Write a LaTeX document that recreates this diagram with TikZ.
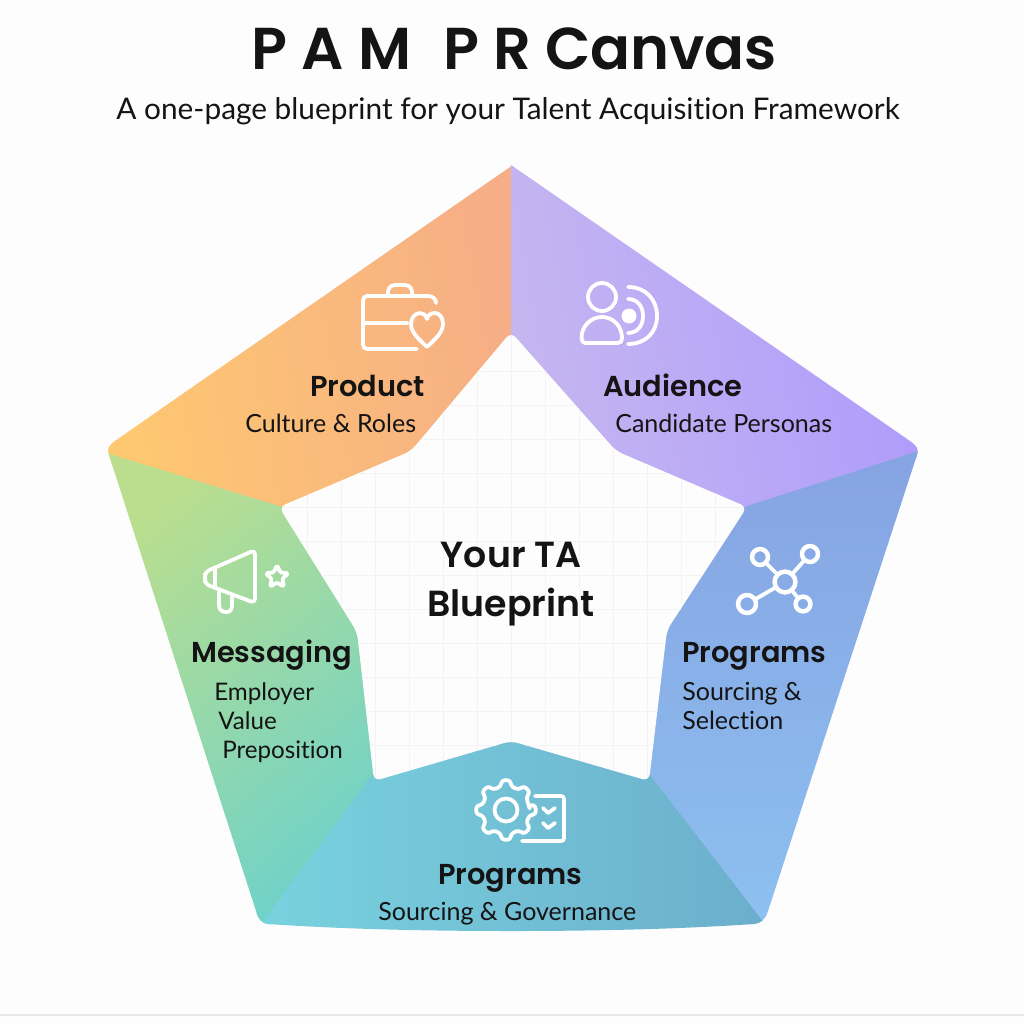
\documentclass[tikz,border=0pt]{standalone}
\usepackage{fontspec}
\setmainfont[Ligatures=NoCommon]{Lato}
\newfontfamily\headfont{Poppins SemiBold}
\usetikzlibrary{positioning}
\definecolor{inkblack}{HTML}{141414}
\definecolor{pagewhite}{HTML}{FDFDFD}
\definecolor{gridgray}{HTML}{F3F3F3}
\definecolor{rulegray}{HTML}{E6E8EA}
\definecolor{productA}{RGB}{254,200,112}
\definecolor{productB}{RGB}{246,174,134}
\definecolor{audienceA}{RGB}{197,182,240}
\definecolor{audienceB}{RGB}{174,155,252}
\definecolor{programsA}{RGB}{134,163,226}
\definecolor{programsB}{RGB}{141,192,240}
\definecolor{governA}{RGB}{120,210,222}
\definecolor{governB}{RGB}{108,174,204}
\definecolor{messageA}{RGB}{186,222,142}
\definecolor{messageB}{RGB}{112,210,200}
\begin{document}
\begin{tikzpicture}[x=.025cm,y=-.025cm,line join=round,
    headtext/.style={inner sep=0pt,text=inkblack,font=\headfont\fontsize{20.5}{20.5}\selectfont},
    centertext/.style={anchor=base,inner sep=0pt,text=inkblack,font=\headfont\fontsize{25.8}{25.8}\selectfont},
    subtext/.style={inner sep=0pt,text=inkblack,font=\fontsize{17.8}{17.8}\selectfont},
    smalltext/.style={inner sep=0pt,text=inkblack,font=\fontsize{17.2}{17.2}\selectfont},
    iconline/.style={draw=white,line width=2.7pt,line cap=round},
    hubnode/.style={draw=white,line width=3.2pt,circle,inner sep=0pt}]
  \useasboundingbox (0,0) rectangle (1024,1024);
  \fill[pagewhite] (0,0) rectangle (1024,1024);
  \draw[rulegray,line width=1pt] (0,1015) -- (1024,1015);

  \begin{scope}
    \clip (511,165) -- (910,441) .. controls (917,446) and (919,449) .. (917,455)
      -- (768,911) .. controls (765,920) and (761,923) .. (754,924)
      .. controls (680,929) and (600,931) .. (511,931)
      .. controls (422,931) and (342,929) .. (268,924)
      .. controls (262,923) and (258,920) .. (256,911)
      -- (109,455) .. controls (107,449) and (108,446) .. (115,441) -- cycle;
    \shade[left color=productA,right color=productB,shading angle=100]
      (513,165) -- (100,451) -- (100,460) -- (282,512) -- (411,451) -- (513,335) -- cycle;
    \shade[left color=audienceA,right color=audienceB,shading angle=100]
      (511,165) -- (925,449) -- (925,456) -- (744,512) -- (616,451) -- (511,335) -- cycle;
    \shade[top color=programsA,bottom color=programsB]
      (925,449) -- (764,926) -- (750,926) -- (640,775) -- (667,630) -- (744,507) -- cycle;
    \shade[top color=messageA,bottom color=messageB,shading angle=40]
      (100,451) -- (258,926) -- (270,926) -- (385,775) -- (357,632) -- (282,507) -- cycle;
    \shade[left color=governA,right color=governB]
      (258,928) -- (372,775) -- (511,741) -- (650,775) -- (768,928) -- (511,935) -- cycle;
  \end{scope}

  \begin{scope}
    \clip[rounded corners=5] (511,332) -- (411,451) -- (279,507) -- (357,632)
      -- (374,781) -- (511,741) -- (649,781) -- (667,630) -- (747,507) -- (616,451) -- cycle;
    \fill[pagewhite] (250,320) rectangle (770,790);
    \foreach \i in {-8,...,7} \draw[gridgray,line width=.6pt] (511+34*\i,320) -- (511+34*\i,790);
    \foreach \j in {-6,...,8} \draw[gridgray,line width=.6pt] (250,507+34*\j) -- (770,507+34*\j);
  \end{scope}

  \node[anchor=base,inner sep=0pt,text=inkblack,font=\headfont\fontsize{42}{42}\selectfont] (title) at (514.5,70) {P A M\hspace{.3em} P R Canvas};
  \node[anchor=base,inner sep=0pt,text=inkblack,font=\fontsize{21.2}{21.2}\selectfont] (subtitle) at (508,120) {A one-page blueprint for your Talent Acquisition Framework};

  \node[centertext] (yourta) at (511,567) {Your TA};
  \node[centertext] (blueprint) at (511,616) {Blueprint};

  \node[headtext,anchor=base west] (product) at (310,396) {Product};
  \node[subtext,anchor=base west] (productsub) at (245,432) {Culture \& Roles};
  \node[headtext,anchor=base west] (audience) at (603,396) {Audience};
  \node[subtext,anchor=base west] (audiencesub) at (615,432) {Candidate Personas};
  \node[headtext,anchor=base west] (messaging) at (191,662) {Messaging};
  \node[smalltext,anchor=base west] (employer) at (214,700) {Employer};
  \node[smalltext,anchor=base west] (value) at (218,729) {Value};
  \node[smalltext,anchor=base west] (preposition) at (222,758) {Preposition};
  \node[headtext,anchor=base west] (programs) at (682,662) {Programs};
  \node[subtext,anchor=base west] (sourcing) at (682,700) {Sourcing \&};
  \node[subtext,anchor=base west] (selection) at (682,729) {Selection};
  \node[headtext,anchor=base west] (programslow) at (438,884) {Programs};
  \node[subtext,anchor=base west] (programslowsub) at (378,920) {Sourcing \& Governance};

  \draw[iconline,rounded corners=3] (417,349) -- (363,349) -- (363,296) -- (428,296);
  \draw[iconline] (428,296) .. controls (433,296) and (436,299) .. (436,303);
  \draw[iconline] (363,323) -- (407,323);
  \draw[iconline,rounded corners=5] (388,296) -- (388,285) -- (412,285) -- (412,296);
  \draw[iconline] (427,347) .. controls (420,340) and (411,333) .. (411,324)
    .. controls (411,317) and (416,313) .. (420,313) .. controls (423,313) and (426,315) .. (427,319)
    .. controls (428,315) and (431,313) .. (435,313) .. controls (439,313) and (443,317) .. (443,324)
    .. controls (443,333) and (434,340) .. (427,347) -- cycle;

  \draw[iconline] (602,297) circle [radius=14];
  \draw[iconline] (585,343) -- (618,343) .. controls (621,343) and (622,341) .. (622,338)
    .. controls (622,326) and (613,317) .. (602,317) .. controls (591,317) and (581.5,326) .. (581.5,338)
    .. controls (581.5,341) and (583,343) .. (585,343) -- cycle;
  \fill[white] (629,316) circle [radius=7.5];
  \draw[iconline] (628,299) .. controls (638,299) and (643,307) .. (643,316) .. controls (643,325) and (638,333) .. (628,333);
  \draw[iconline] (628,287) .. controls (646,287) and (657,300) .. (657,316) .. controls (657,332) and (646,344) .. (628,344);

  \draw[iconline,rounded corners=3] (205,578) -- (205,572) -- (255,550) -- (255,603) -- (205,584) -- cycle;
  \draw[iconline] (215,569) -- (215,588);
  \draw[iconline] (219,592) -- (219,605) .. controls (219,610) and (222,612) .. (226,612)
    .. controls (230,612) and (232,610) .. (232,605) -- (232,597);
  \draw[iconline,rounded corners=1.5] (277,565) -- (280.3,572.5) -- (288.4,573.3) -- (282.3,578.7) -- (284,586.7)
    -- (277,582.5) -- (270,586.7) -- (271.7,578.7) -- (265.6,573.3) -- (273.7,572.5) -- cycle;

  \node[hubnode,minimum size=.52cm] (hub) at (785,582) {};
  \node[hubnode,minimum size=.4cm] (netlu) at (760,557) {};
  \node[hubnode,minimum size=.4cm] (netru) at (810,554) {};
  \node[hubnode,minimum size=.45cm] (netld) at (747,604) {};
  \node[hubnode,minimum size=.37cm] (netrd) at (803,604) {};
  \foreach \n in {netlu,netru,netld,netrd} \draw[iconline] (hub) -- (\n);

  \draw[iconline,rounded corners=2] (530,810) \foreach \a in {0,45,...,315} {
      -- ([shift={(506,810)}]{\a-13}:24) -- ([shift={(506,810)}]{\a-8}:30)
      -- ([shift={(506,810)}]{\a+8}:30) -- ([shift={(506,810)}]{\a+13}:24)} -- cycle;
  \draw[iconline] (506,810) circle [radius=11.5];
  \draw[iconline,rounded corners=2] (535,796) -- (564,796) -- (564,841) -- (522,841);
  \draw[iconline] (543,808) -- (548,813) -- (555,808);
  \draw[iconline] (543,823) -- (548,828) -- (555,823);
\end{tikzpicture}
\end{document}
